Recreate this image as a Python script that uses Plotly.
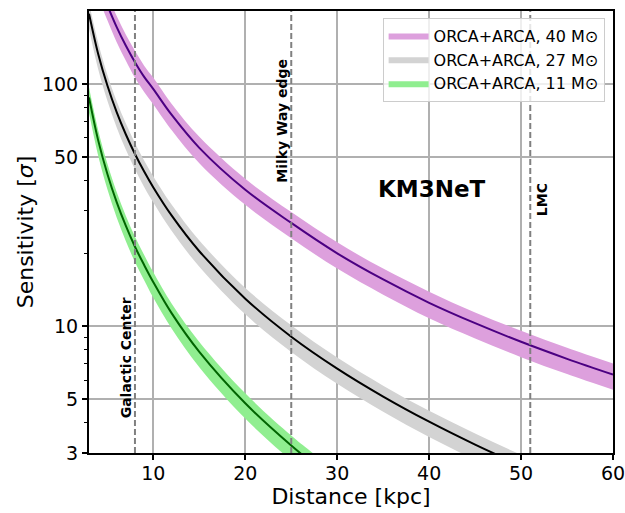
import numpy as np
import plotly.graph_objects as go

# ---------------- data ----------------
x40 = [4.5, 5, 6, 7, 8, 9, 10, 12, 15, 20, 25, 30, 35, 40, 45, 50, 55, 60]
c40 = [236, 211, 172, 144, 123, 107, 95.2, 74.5, 54.5, 36.6, 26.7, 20.0, 15.6, 12.5, 10.3, 8.63, 7.34, 6.32]
u40 = [262, 234, 191, 160, 137, 119, 106, 82.7, 60.5, 40.6, 29.6, 22.2, 17.3, 13.9, 11.4, 9.58, 8.15, 7.02]
l40 = [204, 183, 149, 125, 106, 92.6, 82.3, 64.4, 47.1, 31.7, 23.1, 17.3, 13.5, 10.8, 8.91, 7.46, 6.35, 5.47]

x27 = [3, 4, 5, 6, 7, 8, 9, 10, 12, 15, 20, 25, 30, 35, 40, 45, 50, 55]
c27 = [195, 133, 98.5, 76.7, 62.0, 51.4, 43.5, 37.4, 28.6, 20.4, 13.0, 9.06, 6.69, 5.13, 4.04, 3.25, 2.66, 2.21]
u27 = [216, 148, 109, 85.1, 68.8, 57.1, 48.3, 41.5, 31.7, 22.6, 14.4, 10.1, 7.43, 5.69, 4.48, 3.61, 2.95, 2.45]
l27 = [169, 115, 85.2, 66.3, 53.6, 44.5, 37.6, 32.4, 24.7, 17.6, 11.2, 7.84, 5.79, 4.44, 3.49, 2.81, 2.30, 1.91]

x11 = [3, 4, 5, 6, 7, 8, 9, 10, 12, 15, 20, 25, 27, 30]
c11 = [88, 58.5, 42.5, 32.6, 26.0, 21.3, 17.9, 15.2, 11.3, 7.84, 4.81, 3.22, 2.79, 2.28]
u11 = [96.8, 64.4, 46.8, 35.9, 28.6, 23.4, 19.7, 16.7, 12.4, 8.62, 5.29, 3.54, 3.07, 2.51]
l11 = [76.1, 50.6, 36.8, 28.2, 22.5, 18.4, 15.5, 13.1, 9.77, 6.78, 4.16, 2.79, 2.41, 1.97]

series_names = ["ORCA+ARCA, 40 M⊙", "ORCA+ARCA, 27 M⊙", "ORCA+ARCA, 11 M⊙"]

marker_names = ["Galactic Center", "Milky Way edge", "LMC"]
marker_x = [8, 25, 51]

y_ticks = [3, 5, 10, 50, 100]
y_minor = [4, 6, 7, 8, 9, 20, 30, 40, 60, 70, 80, 90]
x_ticks = [10, 20, 30, 40, 50, 60]

# ---------------- figure ----------------
band_colors = ["#DDA0DD", "#D3D3D3", "#90EE90"]
line_colors = ["#4B0082", "#000000", "#006400"]

fig = go.Figure()
groups = [(x40, c40, u40, l40), (x27, c27, u27, l27), (x11, c11, u11, l11)]

for (xs, cs, us, ls), name, bc in zip(groups, series_names, band_colors):
    fig.add_trace(go.Scatter(x=xs, y=ls, mode="lines", line=dict(width=0, shape="spline"),
                             showlegend=False, hoverinfo="skip"))
    fig.add_trace(go.Scatter(x=xs, y=us, mode="lines", line=dict(width=0, shape="spline"),
                             fill="tonexty", fillcolor=bc, name=name))

for (xs, cs, us, ls), lc in zip(groups, line_colors):
    fig.add_trace(go.Scatter(x=xs, y=cs, mode="lines", line=dict(color=lc, width=2, shape="spline"),
                             showlegend=False))

for xv in marker_x:
    fig.add_shape(type="line", xref="x", yref="paper", x0=xv, x1=xv, y0=0, y1=1,
                  line=dict(color="#808080", width=2, dash="6px,3px"), layer="above")

ann_pos = [(7.0, 7.43), (24.0, 70.5), (52.3, 33.2)]
for name, (ax, ay) in zip(marker_names, ann_pos):
    fig.add_annotation(x=ax, y=np.log10(ay), text="<b>%s</b>" % name, textangle=-90,
                       showarrow=False, xanchor="center", yanchor="middle",
                       font=dict(family="DejaVu Sans", size=14, color="black"))

fig.add_annotation(x=40.3, y=np.log10(36.9), text="<b>KM3NeT</b>", showarrow=False,
                   xanchor="center", yanchor="middle",
                   font=dict(family="DejaVu Sans", size=23, color="black"))

fig.update_layout(
    width=625, height=513,
    margin=dict(l=89, r=12, t=11, b=60),
    paper_bgcolor="white", plot_bgcolor="white",
    font=dict(family="DejaVu Sans", color="black"),
    showlegend=True,
    legend=dict(x=0.984, y=0.985, xanchor="right", yanchor="top", traceorder="normal",
                itemwidth=40,
                bgcolor="rgba(255,255,255,0.8)", bordercolor="#cccccc", borderwidth=1,
                font=dict(size=16, family="DejaVu Sans")),
)

fig.update_xaxes(
    range=[3, 60], tickvals=x_ticks, ticks="outside", ticklen=5, tickwidth=1.5, tickcolor="black",
    showgrid=True, gridcolor="#b0b0b0", gridwidth=1.6, automargin=False,
    ticklabeloverflow="allow", ticklabelstandoff=-3,
    showline=True, linecolor="black", linewidth=2, mirror=True, zeroline=False,
    tickfont=dict(size=19),
    title=dict(text="Distance [kpc]", font=dict(size=22), standoff=2),
)
fig.update_yaxes(
    type="log", range=[np.log10(3), np.log10(200)], tickvals=y_ticks, ticktext=[str(v) for v in y_ticks],
    ticks="outside", ticklen=5, tickwidth=1.5, tickcolor="black",
    minor=dict(tickvals=y_minor, ticks="outside", ticklen=3, tickwidth=1, tickcolor="black", showgrid=False),
    showgrid=True, gridcolor="#b0b0b0", gridwidth=1.6, automargin=False,
    ticklabeloverflow="allow",
    showline=True, linecolor="black", linewidth=2, mirror=True, zeroline=False,
    tickfont=dict(size=19),
    title=dict(text="Sensitivity [<i>σ</i>]", font=dict(size=22), standoff=2),
)

fig.write_html("out.html", config={"displayModeBar": False},
               post_script="document.body.style.margin='0px';")
